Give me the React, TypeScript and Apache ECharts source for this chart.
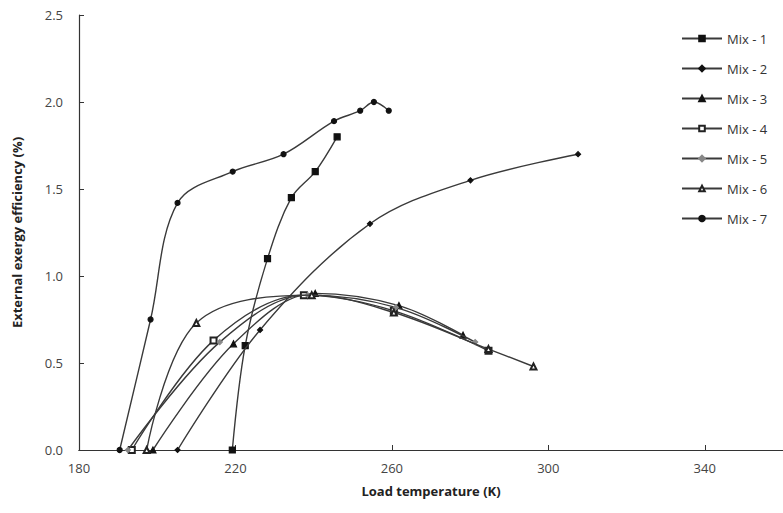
import React, { useEffect, useRef } from "react";
import * as echarts from "echarts";

const seriesNames = ["Mix - 1", "Mix - 2", "Mix - 3", "Mix - 4", "Mix - 5", "Mix - 6", "Mix - 7"];

const mix1: number[][] = [[219.2, 0], [222.5, 0.6], [228.2, 1.1], [234.3, 1.45], [240.4, 1.6], [246.0, 1.8]];
const mix2: number[][] = [[205.2, 0], [226.3, 0.69], [254.4, 1.3], [280.1, 1.55], [307.6, 1.7]];
const mix3: number[][] = [[198.9, 0], [219.5, 0.61], [240.4, 0.9], [261.8, 0.83], [278.2, 0.66]];
const mix4: number[][] = [[193.5, 0], [214.4, 0.63], [237.5, 0.89], [260.5, 0.8], [284.7, 0.57]];
const mix5: number[][] = [[192.5, 0], [216.0, 0.62], [238.5, 0.89], [261.0, 0.82], [281.3, 0.62]];
const mix6: number[][] = [[197.3, 0], [210.0, 0.73], [239.5, 0.89], [260.5, 0.79], [284.7, 0.58], [296.2, 0.48]];
const mix7: number[][] = [[190.4, 0], [198.3, 0.75], [205.2, 1.42], [219.3, 1.6], [232.3, 1.7], [245.2, 1.89], [251.9, 1.95], [255.4, 2.0], [259.2, 1.95]];

const seriesData = [mix1, mix2, mix3, mix4, mix5, mix6, mix7];
const symbols = ["rect", "diamond", "triangle", "emptyRect", "diamond", "emptyTriangle", "circle"];
const symbolSizes = [6, 5, 6, 6, 5, 6, 5];
const markerColors = ["#111", "#111", "#111", "#222", "#888", "#222", "#111"];

const xTicks = { min: 180, max: 360, interval: 40 };
const yTicks = { min: 0, max: 2.5, interval: 0.5 };

export default function App() {
  const ref = useRef<HTMLDivElement>(null);
  useEffect(() => {
    if (!ref.current) return;
    const chart = echarts.init(ref.current, undefined, { renderer: "svg" });
    const font = "'Open Sans', 'Liberation Sans', sans-serif";
    chart.setOption({
      animation: false,
      textStyle: { fontFamily: font },
      grid: { left: 79, top: 15, right: 0, bottom: 63 },
      legend: {
        orient: "vertical",
        left: 676,
        top: 27,
        itemGap: 17,
        itemWidth: 40,
        itemHeight: 7,
        textStyle: { fontFamily: font, fontSize: 13, color: "#333" },
        data: seriesNames,
      },
      xAxis: [
        {
          type: "value",
          min: xTicks.min,
          max: xTicks.max,
          interval: xTicks.interval,
          name: "Load temperature (K)",
          nameLocation: "middle",
          nameGap: 34,
          nameTextStyle: { fontFamily: font, fontWeight: "bold", fontSize: 13, color: "#222" },
          axisLine: { show: true, onZero: false, lineStyle: { color: "#333", width: 1.2 } },
          axisTick: { show: true, inside: true, length: 5, lineStyle: { color: "#333" } },
          axisLabel: { color: "#444", fontSize: 13, margin: 11, showMaxLabel: false },
          splitLine: { show: false },
        },
        {
          type: "value",
          position: "top",
          min: xTicks.min,
          max: xTicks.max,
          axisLine: { show: true, lineStyle: { color: "#333", width: 1.2 } },
          axisTick: { show: false },
          axisLabel: { show: false },
          splitLine: { show: false },
        },
      ],
      yAxis: {
        type: "value",
        min: yTicks.min,
        max: yTicks.max,
        interval: yTicks.interval,
        name: "External exergy efficiency (%)",
        nameLocation: "middle",
        nameGap: 56,
        nameRotate: 90,
        nameTextStyle: { fontFamily: font, fontWeight: "bold", fontSize: 13, color: "#222" },
        axisLine: { show: true, onZero: false, lineStyle: { color: "#333", width: 1.2 } },
        axisTick: { show: true, inside: true, length: 5, lineStyle: { color: "#333" } },
        axisLabel: { color: "#444", fontSize: 13, margin: 16, formatter: (v: number) => v.toFixed(1) },
        splitLine: { show: false },
      },
      series: seriesData.map((d, i) => ({
        name: seriesNames[i],
        type: "line",
        data: d,
        smooth: 0.35,
        symbol: symbols[i],
        symbolSize: symbolSizes[i],
        showSymbol: true,
        lineStyle: { color: "#3a3a3a", width: 1.4 },
        itemStyle: { color: markerColors[i], borderColor: markerColors[i], borderWidth: 1.2 },
        z: 2 + i,
      })),
    });
    return () => chart.dispose();
  }, []);
  return <div ref={ref} style={{ position: "fixed", left: 0, top: 0, width: 783, height: 513, background: "#fff" }} />;
}
